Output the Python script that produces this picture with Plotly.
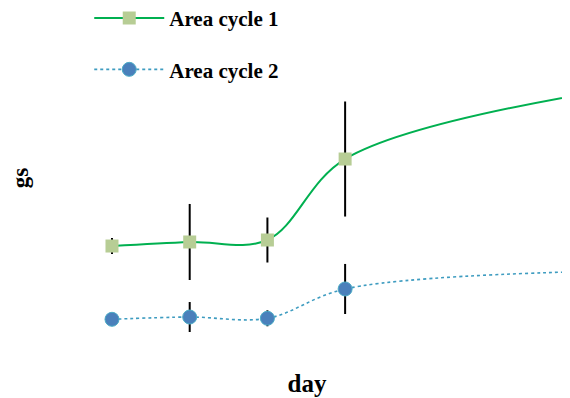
import plotly.graph_objects as go

days = [1, 2, 3, 4, 7]
cycle1 = [0.2044, 0.2111, 0.2144, 0.3490, 0.4554]
cycle1_err = [0.0133, 0.0632, 0.0374, 0.0956, 0.0600]
cycle2 = [0.0826, 0.0864, 0.0843, 0.1330, 0.1617]
cycle2_err = [0.0000, 0.0249, 0.0133, 0.0416, 0.0300]

font_family = "Liberation Serif"

fig = go.Figure()
fig.add_trace(go.Scatter(
    x=days, y=cycle1, name="<b>Area cycle 1</b>", mode="lines+markers",
    line=dict(color="#00b050", width=2, shape="spline", smoothing=1),
    marker=dict(symbol="square", size=13, color="#b7cd95", line=dict(width=0)),
    error_y=dict(type="data", array=cycle1_err, color="black", thickness=2, width=0),
    legendgroup="a",
))
fig.add_trace(go.Scatter(
    x=days, y=cycle2, name="<b>Area cycle 2</b>", mode="lines+markers",
    line=dict(color="#3e9cc0", width=1.6, dash="dot", shape="spline", smoothing=1),
    marker=dict(symbol="circle", size=14, color="#4a80bb", line=dict(width=1, color="#4bacc6")),
    error_y=dict(type="data", array=cycle2_err, color="black", thickness=2, width=0),
    legendgroup="b",
))

fig.update_layout(
    width=562, height=390,
    margin=dict(l=36, r=0, t=0, b=29, autoexpand=False),
    plot_bgcolor="white", paper_bgcolor="white",
    font=dict(family=font_family, color="black"),
    showlegend=True,
    legend=dict(x=0.086, y=1.028, xanchor="left", yanchor="top",
                font=dict(size=21, family=font_family, color="black"),
                itemwidth=70, tracegroupgap=21, bgcolor="rgba(0,0,0,0)"),
    xaxis=dict(range=[0.125, 6.894], showgrid=False, zeroline=False, showline=False,
               showticklabels=False, ticks="",
               title=dict(text="<b>day</b>", font=dict(size=25), standoff=5)),
    yaxis=dict(range=[0, 0.6], showgrid=False, zeroline=False, showline=False,
               showticklabels=False, ticks=""),
    annotations=[dict(text="<b>gs</b>", textangle=-90, xref="paper", yref="paper",
                      x=-0.045, y=0.529, xanchor="center", yanchor="middle",
                      showarrow=False, font=dict(size=23, family=font_family, color="black"))],
)
fig.write_html("out.html")
